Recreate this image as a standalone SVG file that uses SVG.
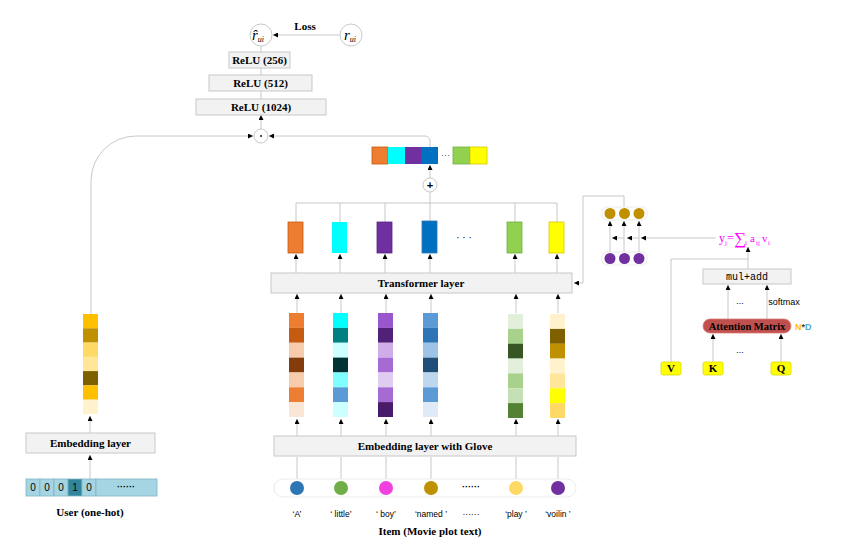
<svg xmlns="http://www.w3.org/2000/svg" width="843" height="554" viewBox="0 0 843 554">
<defs>
<marker id="ah" markerUnits="userSpaceOnUse" markerWidth="5" markerHeight="5" refX="5" refY="2.5" orient="auto"><path d="M0,0 L5,2.5 L0,5 z" fill="#000"/></marker>
<style>
.ln{fill:none;stroke:#C8C8C8;stroke-width:1}
.ar{fill:none;stroke:#C8C8C8;stroke-width:1;marker-end:url(#ah)}
.box{fill:#F2F2F2;stroke:#C8C8C8;stroke-width:1}
.bt{font-family:"Liberation Serif",serif;font-weight:bold;font-size:11px;fill:#000;text-anchor:middle}
.st{font-family:"Liberation Sans",Arial,sans-serif;font-size:8.5px;fill:#000;text-anchor:middle}
.oh{fill:#A5D5E2;stroke:#7FB3C4;stroke-width:0.8}
.ohT{font-family:"Liberation Sans",Arial,sans-serif;font-size:10px;fill:#000;text-anchor:middle}
.ring{fill:#fff;stroke:#C8C8C8;stroke-width:1}
.pill{fill:#fff;stroke:#EBEBEB;stroke-width:1}
.yk{fill:#FFFF00;stroke:#D9D900;stroke-width:0.8}
.fm{font-family:"Liberation Serif",serif;fill:#FF00FF}
</style>
</defs>
<rect width="843" height="554" fill="#fff"/>

<g id="connectors">
<line class="ar" x1="340" y1="35" x2="273" y2="35"/>
<line class="ln" x1="261" y1="46" x2="261" y2="99"/>
<line class="ar" x1="261" y1="129" x2="261" y2="115"/>
<path class="ar" d="M91,314 V181 A45,45 0 0 1 136,136 H253"/>
<path class="ar" d="M430,147 V141 A5,5 0 0 0 425,136 H269"/>
<line class="ar" x1="430" y1="178" x2="430" y2="165"/>
<path class="ln" d="M296,222 V203 H557 V222 M340,203 V222 M385,203 V222 M430,203 V192 M430,203 V221 M515,203 V222"/>
<line class="ar" x1="296" y1="273" x2="296" y2="254"/>
<line class="ar" x1="340" y1="273" x2="340" y2="254"/>
<line class="ar" x1="385" y1="273" x2="385" y2="254"/>
<line class="ar" x1="430" y1="273" x2="430" y2="254"/>
<line class="ar" x1="515" y1="273" x2="515" y2="254"/>
<line class="ar" x1="557" y1="273" x2="557" y2="254"/>
<line class="ar" x1="297" y1="313" x2="297" y2="294"/>
<line class="ar" x1="341" y1="313" x2="341" y2="294"/>
<line class="ar" x1="386" y1="313" x2="386" y2="294"/>
<line class="ar" x1="431" y1="313" x2="431" y2="294"/>
<line class="ar" x1="516" y1="313" x2="516" y2="294"/>
<line class="ar" x1="558" y1="313" x2="558" y2="294"/>
<line class="ar" x1="297" y1="436" x2="297" y2="419"/>
<line class="ar" x1="341" y1="436" x2="341" y2="419"/>
<line class="ar" x1="386" y1="436" x2="386" y2="419"/>
<line class="ar" x1="431" y1="436" x2="431" y2="419"/>
<line class="ar" x1="516" y1="436" x2="516" y2="419"/>
<line class="ar" x1="558" y1="436" x2="558" y2="419"/>
<path class="ln" d="M297,457 V481 M341,457 V481 M386,457 V481 M431,457 V481 M516,457 V481 M558,457 V481"/>
<line class="ar" x1="90" y1="433" x2="90" y2="416"/>
<line class="ar" x1="90" y1="479" x2="90" y2="455"/>
<path class="ar" d="M624,207 V196 H583 V283 H574"/>
<line class="ar" x1="610" y1="252" x2="610" y2="221"/>
<line class="ar" x1="624" y1="252" x2="624" y2="221"/>
<line class="ar" x1="639" y1="252" x2="639" y2="221"/>
<line class="ar" x1="716" y1="238" x2="641" y2="238"/>
<line class="ar" x1="639" y1="238" x2="627" y2="238"/>
<line class="ar" x1="624" y1="238" x2="612" y2="238"/>
<line class="ar" x1="748" y1="269" x2="748" y2="247"/>
<path class="ln" d="M671,362 V259 H748"/>
<line class="ar" x1="728" y1="319" x2="728" y2="285"/>
<line class="ar" x1="767" y1="319" x2="767" y2="285"/>
<line class="ar" x1="713" y1="362" x2="713" y2="334"/>
<line class="ar" x1="781" y1="362" x2="781" y2="334"/>
</g>

<g id="r-hat">
<circle class="ring" cx="261" cy="35" r="11"/>
<text x="258" y="40" font-family="Liberation Serif,serif" font-style="italic" font-size="15" text-anchor="middle">r&#x302;<tspan font-size="8" dy="2">ui</tspan></text>
</g>
<g id="r-true">
<circle class="ring" cx="351" cy="35" r="11"/>
<text x="350" y="40" font-family="Liberation Serif,serif" font-style="italic" font-size="15" text-anchor="middle">r<tspan font-size="8" dy="2">ui</tspan></text>
</g>
<text class="bt" x="305" y="30">Loss</text>

<g id="relu256"><rect class="box" x="229" y="52" width="61" height="16"/><text class="bt" x="259.5" y="64">ReLU (256)</text></g>
<g id="relu512"><rect class="box" x="209" y="75" width="103" height="16"/><text class="bt" x="260.5" y="87">ReLU (512)</text></g>
<g id="relu1024"><rect class="box" x="196" y="99" width="130" height="16"/><text class="bt" x="261" y="111">ReLU (1024)</text></g>

<g id="dot-op"><circle class="ring" cx="261" cy="136" r="7"/><circle cx="261" cy="136" r="0.9" fill="#000"/></g>
<g id="plus-op"><circle class="ring" cx="430" cy="185" r="7"/><text x="430" y="189" font-family="Liberation Sans,sans-serif" font-size="11" font-weight="bold" text-anchor="middle">+</text></g>

<g id="concat-bar">
<rect x="372" y="147" width="16" height="17" fill="#ED7D31" stroke="#C55A11" stroke-width="0.8"/>
<rect x="388" y="147" width="17" height="17" fill="#00FFFF"/>
<rect x="405" y="147" width="16" height="17" fill="#7030A0"/>
<rect x="421" y="147" width="17" height="17" fill="#0070C0"/>
<text x="445.5" y="158" font-family="Liberation Sans,sans-serif" font-size="9" text-anchor="middle" fill="#555">···</text>
<rect x="453" y="147" width="17" height="17" fill="#92D050" stroke="#70AD47" stroke-width="0.8"/>
<rect x="470" y="147" width="17" height="17" fill="#FFFF00" stroke="#D6C800" stroke-width="0.8"/>
</g>

<g id="trans-out">
<rect x="288" y="222" width="15" height="31" fill="#ED7D31" stroke="#C55A11" stroke-width="0.8"/>
<rect x="332" y="222" width="15" height="31" fill="#00FFFF"/>
<rect x="377" y="222" width="15" height="31" fill="#7030A0" stroke="#5B2585" stroke-width="0.8"/>
<rect x="422" y="221" width="15" height="32" fill="#0070C0" stroke="#2E75B6" stroke-width="0.8"/>
<text x="464" y="241" font-family="Liberation Sans,sans-serif" font-size="10" text-anchor="middle">· · ·</text>
<rect x="507" y="222" width="15" height="31" fill="#92D050" stroke="#70AD47" stroke-width="0.8"/>
<rect x="549" y="222" width="15" height="31" fill="#FFFF00" stroke="#D6C800" stroke-width="0.8"/>
</g>

<g id="transformer"><rect class="box" x="271" y="273" width="301" height="20"/><text class="bt" x="421" y="287">Transformer layer</text></g>

<g id="word-embeddings">
<g transform="translate(289,313)">
<rect y="0" width="15" height="14.9" fill="#ED7D31"/><rect y="14.9" width="15" height="14.9" fill="#C55A11"/><rect y="29.7" width="15" height="14.9" fill="#F8CBAD"/><rect y="44.6" width="15" height="14.9" fill="#843C0C"/><rect y="59.4" width="15" height="14.9" fill="#F8CBAD"/><rect y="74.3" width="15" height="14.9" fill="#ED7D31"/><rect y="89.1" width="15" height="14.9" fill="#FBE5D6"/>
</g>
<g transform="translate(333,313)">
<rect y="0" width="15" height="14.9" fill="#00FFFF"/><rect y="14.9" width="15" height="14.9" fill="#008080"/><rect y="29.7" width="15" height="14.9" fill="#CCFFFF"/><rect y="44.6" width="15" height="14.9" fill="#003333"/><rect y="59.4" width="15" height="14.9" fill="#7FFFFF"/><rect y="74.3" width="15" height="14.9" fill="#5B9BD5"/><rect y="89.1" width="15" height="14.9" fill="#CCFFFF"/>
</g>
<g transform="translate(378,313)">
<rect y="0" width="15" height="14.9" fill="#9A57CD"/><rect y="14.9" width="15" height="14.9" fill="#512178"/><rect y="29.7" width="15" height="14.9" fill="#CFADE8"/><rect y="44.6" width="15" height="14.9" fill="#A66BD3"/><rect y="59.4" width="15" height="14.9" fill="#E0CCF0"/><rect y="74.3" width="15" height="14.9" fill="#A66BD3"/><rect y="89.1" width="15" height="14.9" fill="#481B6B"/>
</g>
<g transform="translate(423,313)">
<rect y="0" width="15" height="14.9" fill="#5B9BD5"/><rect y="14.9" width="15" height="14.9" fill="#2E75B6"/><rect y="29.7" width="15" height="14.9" fill="#9DC3E6"/><rect y="44.6" width="15" height="14.9" fill="#1F4E79"/><rect y="59.4" width="15" height="14.9" fill="#BDD7EE"/><rect y="74.3" width="15" height="14.9" fill="#5B9BD5"/><rect y="89.1" width="15" height="14.9" fill="#DEEBF7"/>
</g>
<g transform="translate(508,314)">
<rect y="0" width="15" height="14.9" fill="#E2EFDA"/><rect y="14.9" width="15" height="14.9" fill="#A9D18E"/><rect y="29.7" width="15" height="14.9" fill="#375623"/><rect y="44.6" width="15" height="14.9" fill="#E2EFDA"/><rect y="59.4" width="15" height="14.9" fill="#A9D18E"/><rect y="74.3" width="15" height="14.9" fill="#C5E0B4"/><rect y="89.1" width="15" height="14.9" fill="#548235"/>
</g>
<g transform="translate(550,314)">
<rect y="0" width="15" height="14.9" fill="#FFF2CC"/><rect y="14.9" width="15" height="14.9" fill="#7F6000"/><rect y="29.7" width="15" height="14.9" fill="#BF9000"/><rect y="44.6" width="15" height="14.9" fill="#FFF2CC"/><rect y="59.4" width="15" height="14.9" fill="#FFE699"/><rect y="74.3" width="15" height="14.9" fill="#FFFF00"/><rect y="89.1" width="15" height="14.9" fill="#FFD966"/>
</g>
</g>

<g id="glove"><rect class="box" x="274" y="436" width="302" height="20"/><text class="bt" x="425" y="450">Embedding layer with Glove</text></g>

<g id="tokens">
<rect class="pill" x="274" y="479" width="302" height="18" rx="9"/>
<circle cx="297" cy="488" r="7" fill="#2E75B6"/>
<circle cx="341" cy="488" r="7" fill="#70AD47"/>
<circle cx="386" cy="488" r="7" fill="#F040E0"/>
<circle cx="431" cy="488" r="7" fill="#BF9000"/>
<text x="471" y="490" font-family="Liberation Sans,sans-serif" font-size="9" font-weight="bold" text-anchor="middle">······</text>
<circle cx="516" cy="488" r="7" fill="#FFD966"/>
<circle cx="558" cy="488" r="7" fill="#7030A0"/>
</g>
<g id="words">
<text class="st" x="297" y="517">‘A’</text>
<text class="st" x="341" y="517">‘ little’</text>
<text class="st" x="386" y="517">‘ boy’</text>
<text class="st" x="431" y="517">‘named ’</text>
<text class="st" x="471" y="517">······</text>
<text class="st" x="516" y="517">‘play ’</text>
<text class="st" x="558" y="517">‘voilin ’</text>
</g>
<text class="bt" x="430" y="535">Item (Movie plot text)</text>

<g id="user-embedding">
<rect y="314" x="83" width="15" height="14.3" fill="#FFC000"/><rect y="328.3" x="83" width="15" height="14.3" fill="#BF9000"/><rect y="342.6" x="83" width="15" height="14.3" fill="#FFD966"/><rect y="356.9" x="83" width="15" height="14.3" fill="#FFE699"/><rect y="371.1" x="83" width="15" height="14.3" fill="#7F6000"/><rect y="385.4" x="83" width="15" height="14.3" fill="#FFC000"/><rect y="399.7" x="83" width="15" height="14.3" fill="#FFF2CC"/>
</g>

<g id="user-embed-layer"><rect class="box" x="26" y="433" width="129" height="20"/><text class="bt" x="90.5" y="447">Embedding layer</text></g>

<g id="one-hot">
<rect class="oh" x="26" y="479" width="14" height="17"/><rect class="oh" x="40" y="479" width="14" height="17"/><rect class="oh" x="54" y="479" width="14" height="17"/>
<rect x="68" y="479" width="14" height="17" fill="#31859C" stroke="#7FB3C4" stroke-width="0.8"/>
<rect class="oh" x="82" y="479" width="14" height="17"/>
<rect class="oh" x="96" y="479" width="61" height="17"/>
<text class="ohT" x="33" y="491">0</text><text class="ohT" x="47" y="491">0</text><text class="ohT" x="61" y="491">0</text><text class="ohT" x="75" y="491">1</text><text class="ohT" x="89" y="491">0</text>
<text x="126" y="490" font-family="Liberation Sans,sans-serif" font-size="9" font-weight="bold" text-anchor="middle">······</text>
</g>
<text class="bt" x="90" y="516">User (one-hot)</text>

<g id="gold-units">
<rect class="pill" x="602" y="207" width="45" height="13" rx="5" stroke="#D0D0D0"/>
<circle cx="610" cy="213.5" r="5.5" fill="#BF9000"/><circle cx="624.5" cy="213.5" r="5.5" fill="#BF9000"/><circle cx="639" cy="213.5" r="5.5" fill="#BF9000"/>
</g>
<g id="purple-units">
<rect class="pill" x="602" y="252" width="45" height="13" rx="5" stroke="#D0D0D0"/>
<circle cx="610" cy="258.5" r="5.5" fill="#7030A0"/><circle cx="624.5" cy="258.5" r="5.5" fill="#7030A0"/><circle cx="639" cy="258.5" r="5.5" fill="#7030A0"/>
</g>

<g id="formula">
<text class="fm" x="719" y="242" font-size="12">y</text>
<text class="fm" x="725" y="245" font-size="7">j</text>
<text class="fm" x="727" y="242" font-size="12">=</text>
<text class="fm" x="734" y="244" font-size="17">∑</text>
<text class="fm" x="745" y="245" font-size="7">i</text>
<text class="fm" x="750" y="242" font-size="11">a</text>
<text class="fm" x="756" y="245" font-size="7">ij</text>
<text class="fm" x="762" y="242" font-size="11">v</text>
<text class="fm" x="768" y="245" font-size="7">i</text>
</g>

<g id="muladd"><rect class="box" x="703" y="269" width="88" height="15"/><text x="747" y="280" font-family="Liberation Mono,monospace" font-size="10" text-anchor="middle">mul+add</text></g>
<text x="740" y="304" font-family="Liberation Sans,sans-serif" font-size="9" text-anchor="middle">...</text>
<text x="784" y="305" font-family="Liberation Sans,sans-serif" font-size="9" text-anchor="middle">softmax</text>

<g id="attention"><rect x="703" y="319" width="88" height="14" rx="7" fill="#C0504D" stroke="#D87B78" stroke-width="0.8"/><text x="747" y="330" font-family="Liberation Serif,serif" font-weight="bold" font-size="10.5" text-anchor="middle">Attention Matrix</text></g>
<text x="795" y="330" font-family="Liberation Sans,sans-serif" font-size="9" font-weight="bold"><tspan fill="#FFC000">N</tspan><tspan fill="#404040">*</tspan><tspan fill="#4BACC6">D</tspan></text>
<text x="740" y="353" font-family="Liberation Sans,sans-serif" font-size="9" text-anchor="middle">...</text>

<g id="V"><rect class="yk" x="661" y="362" width="20" height="13" rx="2"/><text class="bt" x="671" y="372">V</text></g>
<g id="K"><rect class="yk" x="703" y="362" width="20" height="13" rx="2"/><text class="bt" x="713" y="372">K</text></g>
<g id="Q"><rect class="yk" x="771" y="362" width="20" height="13" rx="2"/><text class="bt" x="781" y="372">Q</text></g>
</svg>
